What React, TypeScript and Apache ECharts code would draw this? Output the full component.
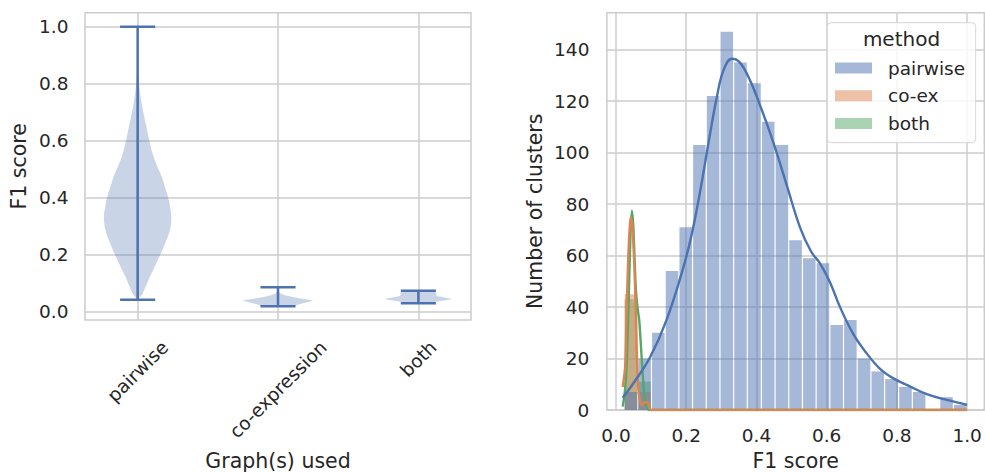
import React, { useEffect, useRef } from "react";
import * as echarts from "echarts";

// ---------- Left panel: violin plot ----------
const categories = ["pairwise", "co-expression", "both"];
const violinMins = [0.041, 0.018, 0.029];
const violinMaxs = [1.0, 0.085, 0.073];
// [F1 value, relative half-width of the violin]
const pairwiseProfile = [
  [0.041, 0.0], [0.05, 0.06], [0.062, 0.14], [0.09, 0.24], [0.12, 0.34], [0.15, 0.46],
  [0.179, 0.57], [0.203, 0.66], [0.226, 0.74], [0.25, 0.82], [0.273, 0.89], [0.297, 0.94],
  [0.32, 0.96], [0.34, 0.96], [0.355, 0.94], [0.385, 0.9], [0.413, 0.84], [0.44, 0.77],
  [0.472, 0.69], [0.5, 0.59], [0.53, 0.49], [0.56, 0.41], [0.589, 0.35], [0.618, 0.3],
  [0.648, 0.25], [0.677, 0.2], [0.706, 0.15], [0.74, 0.1], [0.777, 0.06], [0.812, 0.03],
  [0.85, 0.012], [0.9, 0.004], [0.95, 0.001], [1.0, 0.0],
];
const coexProfile = [
  [0.018, 0.45], [0.024, 0.58], [0.03, 0.74], [0.035, 0.92], [0.039, 1.0], [0.044, 0.72],
  [0.05, 0.45], [0.056, 0.22], [0.064, 0.06], [0.075, 0.01], [0.085, 0.0],
];
const bothProfile = [
  [0.029, 0.3], [0.034, 0.5], [0.039, 0.78], [0.044, 0.97], [0.048, 0.78], [0.053, 0.55],
  [0.058, 0.5], [0.064, 0.52], [0.069, 0.47], [0.073, 0.4],
];

// ---------- Right panel: histogram + KDE ----------
const f1Ticks = [0, 0.2, 0.4, 0.6, 0.8, 1.0];
const countTicks = [0, 20, 40, 60, 80, 100, 120, 140];
const binEdges = [
  0.023, 0.062, 0.101, 0.14, 0.179, 0.218, 0.257, 0.296, 0.335, 0.374, 0.414, 0.453, 0.492,
  0.531, 0.57, 0.609, 0.648, 0.687, 0.726, 0.765, 0.805, 0.844, 0.883, 0.922, 0.961, 1.0,
];
const methods = ["pairwise", "co-ex", "both"];
const pairwiseCounts = [7, 20, 30, 54, 71, 103, 122, 147, 135, 127, 112, 103, 66, 59, 57, 33, 35, 20, 15, 12, 9, 7, 0, 5, 2];
const coexCounts = [45, 7, 0, 0, 0, 0, 0, 0, 0, 0, 0, 0, 0, 0, 0, 0, 0, 0, 0, 0, 0, 0, 0, 0, 0];
const bothCounts = [43, 11, 0, 0, 0, 0, 0, 0, 0, 0, 0, 0, 0, 0, 0, 0, 0, 0, 0, 0, 0, 0, 0, 0, 0];

const pairwiseKde = [
  [0.019, 4.8], [0.05, 10.5], [0.097, 20.5], [0.144, 35], [0.192, 55.5], [0.216, 68.5],
  [0.239, 84.5], [0.263, 103.5], [0.287, 121.5], [0.306, 132], [0.33, 136.5], [0.353, 135],
  [0.382, 128], [0.41, 118.5], [0.448, 104], [0.486, 87.5], [0.524, 71], [0.556, 61.5],
  [0.581, 57], [0.61, 49.5], [0.638, 40], [0.676, 29.5], [0.714, 22], [0.752, 16],
  [0.79, 12.3], [0.838, 9.1], [0.885, 6.2], [0.942, 3.9], [1.0, 2.0],
];
const coexKde = [
  [0.019, 9], [0.026, 17], [0.03, 38], [0.035, 60], [0.039, 71], [0.042, 75], [0.046, 72],
  [0.049, 66], [0.054, 49], [0.059, 23], [0.063, 9], [0.068, 4], [0.073, 2], [0.083, 3],
  [0.092, 2.7], [0.097, 0.3], [0.102, 0], [1.0, 0],
];
const bothKde = [
  [0.019, 1.3], [0.025, 7], [0.03, 17], [0.034, 33], [0.038, 53], [0.042, 71], [0.0455, 77.5],
  [0.049, 72], [0.052, 62], [0.055, 51], [0.058, 44], [0.062, 39], [0.066, 35], [0.07, 27],
  [0.076, 14], [0.081, 5], [0.087, 1], [0.095, 0], [1.0, 0],
];

const BLUE = "#4c72b0";
const ORANGE = "#dd8452";
const GREEN = "#55a868";
const BLUE_A = "rgba(76,114,176,0.5)";
const ORANGE_A = "rgba(221,132,82,0.5)";
const GREEN_A = "rgba(85,168,104,0.5)";
const TEXT = "#262626";
const GRIDC = "#cccccc";
const FONT = "DejaVu Sans";

function binData(counts: number[]) {
  return counts.map((c, i) => [binEdges[i], binEdges[i + 1], c]);
}

export default function App() {
  const ref = useRef<HTMLDivElement>(null);
  useEffect(() => {
    const chart = echarts.init(ref.current!, null, { renderer: "svg" });
    const G0 = { left: 85, top: 12.7, width: 386, height: 307.3 };
    const G1 = { left: 606.9, top: 12.7, width: 377.4, height: 397.3 };
    const tickFont = 18.5;
    const labelFont = 20.5;
    const profiles = [pairwiseProfile, coexProfile, bothProfile];
    const splitLine = { show: true, lineStyle: { color: GRIDC, width: 1.5 } };
    const fmt1 = (v: number) => Number(v).toFixed(1);

    const barSeries = (name: string, counts: number[], color: string) => ({
      type: "custom",
      name,
      xAxisIndex: 1,
      yAxisIndex: 1,
      data: binData(counts),
      encode: { x: [0, 1], y: 2 },
      itemStyle: { color },
      z: 2,
      renderItem: (params: any, api: any) => {
        const h = api.value(2);
        if (!h) return null;
        const p0 = api.coord([api.value(0), h]);
        const p1 = api.coord([api.value(1), 0]);
        return {
          type: "rect",
          shape: { x: p0[0] + 0.6, y: p0[1], width: p1[0] - p0[0] - 1.2, height: p1[1] - p0[1] },
          style: { fill: color },
        };
      },
    });

    const kdeSeries = (name: string, data: number[][], color: string, smooth: number) => ({
      type: "line",
      name,
      xAxisIndex: 1,
      yAxisIndex: 1,
      data,
      showSymbol: false,
      symbol: "none",
      smooth,
      lineStyle: { color, width: 2.4 },
      itemStyle: { color },
      z: 3,
    });

    const option: any = {
      animation: false,
      textStyle: { fontFamily: FONT },
      grid: [
        { ...G0, show: true, borderColor: GRIDC, borderWidth: 1.5, backgroundColor: "transparent", containLabel: false },
        { ...G1, show: true, borderColor: GRIDC, borderWidth: 1.5, backgroundColor: "transparent", containLabel: false },
      ],
      xAxis: [
        {
          type: "value", gridIndex: 0, min: -0.375, max: 2.375,
          axisLine: { show: false },
          axisTick: { show: false, customValues: [0, 1, 2] },
          axisLabel: { show: false, customValues: [0, 1, 2] },
          splitLine,
        },
        {
          type: "value", gridIndex: 1, min: -0.026, max: 1.049,
          axisLine: { show: false },
          axisTick: { show: false, customValues: f1Ticks },
          axisLabel: { customValues: f1Ticks, formatter: fmt1, fontSize: tickFont, color: TEXT, margin: 16, lineHeight: tickFont, fontFamily: FONT },
          splitLine,
        },
      ],
      yAxis: [
        {
          type: "value", gridIndex: 0, min: -0.03, max: 1.049,
          axisLine: { show: false },
          axisTick: { show: false, customValues: f1Ticks },
          axisLabel: { customValues: f1Ticks, formatter: fmt1, fontSize: tickFont, color: TEXT, margin: 16.5, fontFamily: FONT },
          splitLine,
        },
        {
          type: "value", gridIndex: 1, min: 0, max: 154.4,
          axisLine: { show: false },
          axisTick: { show: false, customValues: countTicks },
          axisLabel: { customValues: countTicks, fontSize: tickFont, color: TEXT, margin: 17.5, fontFamily: FONT },
          splitLine,
        },
      ],
      legend: {
        orient: "vertical",
        left: 835,
        top: 58,
        itemWidth: 37,
        itemHeight: 11,
        itemGap: 7.75,
        icon: "rect",
        selectedMode: false,
        padding: 0,
        z: 100,
        textStyle: { fontSize: 18.5, color: TEXT, lineHeight: 20, padding: [0, 0, 0, 11], fontFamily: FONT },
        data: [
          { name: "pairwise", itemStyle: { color: BLUE_A } },
          { name: "co-ex", itemStyle: { color: ORANGE_A } },
          { name: "both", itemStyle: { color: GREEN_A } },
        ],
      },
      series: [
        {
          type: "custom",
          name: "violins",
          xAxisIndex: 0,
          yAxisIndex: 0,
          data: categories.map((_, i) => [i, violinMins[i], violinMaxs[i]]),
          encode: { x: 0, y: [1, 2] },
          z: 2,
          renderItem: (params: any, api: any) => {
            const i = api.value(0);
            const lo = api.value(1);
            const hi = api.value(2);
            const prof = profiles[i];
            const left = prof.map(([v, d]) => api.coord([i - d * 0.25, v]));
            const right = prof.slice().reverse().map(([v, d]) => api.coord([i + d * 0.25, v]));
            const c = (x: number, y: number) => api.coord([x, y]);
            const ls = { stroke: BLUE, lineWidth: 2.5 };
            const seg = (x1: number, y1: number, x2: number, y2: number) => {
              const a = c(x1, y1);
              const b = c(x2, y2);
              return { type: "line", shape: { x1: a[0], y1: a[1], x2: b[0], y2: b[1] }, style: ls };
            };
            return {
              type: "group",
              children: [
                { type: "polygon", shape: { points: left.concat(right) }, style: { fill: "rgba(76,114,176,0.3)" } },
                seg(i, lo, i, hi),
                seg(i - 0.125, lo, i + 0.125, lo),
                seg(i - 0.125, hi, i + 0.125, hi),
              ],
            };
          },
        },
        barSeries("both", bothCounts, GREEN_A),
        barSeries("co-ex", coexCounts, ORANGE_A),
        barSeries("pairwise", pairwiseCounts, BLUE_A),
        kdeSeries("both KDE", bothKde, GREEN, 0.3),
        kdeSeries("co-ex KDE", coexKde, ORANGE, 0.3),
        kdeSeries("pairwise KDE", pairwiseKde, BLUE, 0.4),
      ],
    };
    chart.setOption(option);

    // Rotated category labels (centered under each violin, as matplotlib does) and titles
    const canvas = document.createElement("canvas");
    const ctx = canvas.getContext("2d")!;
    ctx.font = `${tickFont}px "${FONT}"`;
    const axisBottom0 = G0.top + G0.height;
    const catLabels = categories.map((name, i) => {
      const x = chart.convertToPixel({ xAxisIndex: 0 } as any, i) as number;
      const w = ctx.measureText(name).width;
      const y = axisBottom0 + 17.5 + ((w + tickFont) * Math.SQRT1_2) / 2;
      return {
        type: "text",
        x,
        y,
        rotation: Math.PI / 4,
        style: { text: name, fontSize: tickFont, fontFamily: FONT, fill: TEXT, align: "center", verticalAlign: "middle" },
      };
    });
    const title = (text: string, x: number, y: number, rot: number) => ({
      type: "text",
      x,
      y,
      rotation: rot,
      style: { text, fontSize: labelFont, fontFamily: FONT, fill: TEXT, align: "center", verticalAlign: "middle" },
    });
    chart.setOption({
      graphic: [
        ...catLabels,
        title("F1 score", G0.left - 65.8, G0.top + G0.height / 2, Math.PI / 2),
        title("Graph(s) used", G0.left + G0.width / 2, 461, 0),
        title("Number of clusters", G1.left - 72, G1.top + G1.height / 2, Math.PI / 2),
        title("F1 score", G1.left + G1.width / 2, 461, 0),
        {
          type: "rect",
          z: 90,
          shape: { x: 827.3, y: 22.7, width: 148.4, height: 120, r: 4 },
          style: { fill: "rgba(255,255,255,0.8)", stroke: "#d6d6d6", lineWidth: 1 },
        },
        {
          type: "text",
          z: 101,
          x: 901.5,
          y: 38.5,
          style: { text: "method", fontSize: 20, fontFamily: FONT, fill: TEXT, align: "center", verticalAlign: "middle" },
        },
      ],
    });

    return () => chart.dispose();
  }, []);
  return <div ref={ref} style={{ position: "absolute", left: 0, top: 0, width: 985, height: 472 }} />;
}
